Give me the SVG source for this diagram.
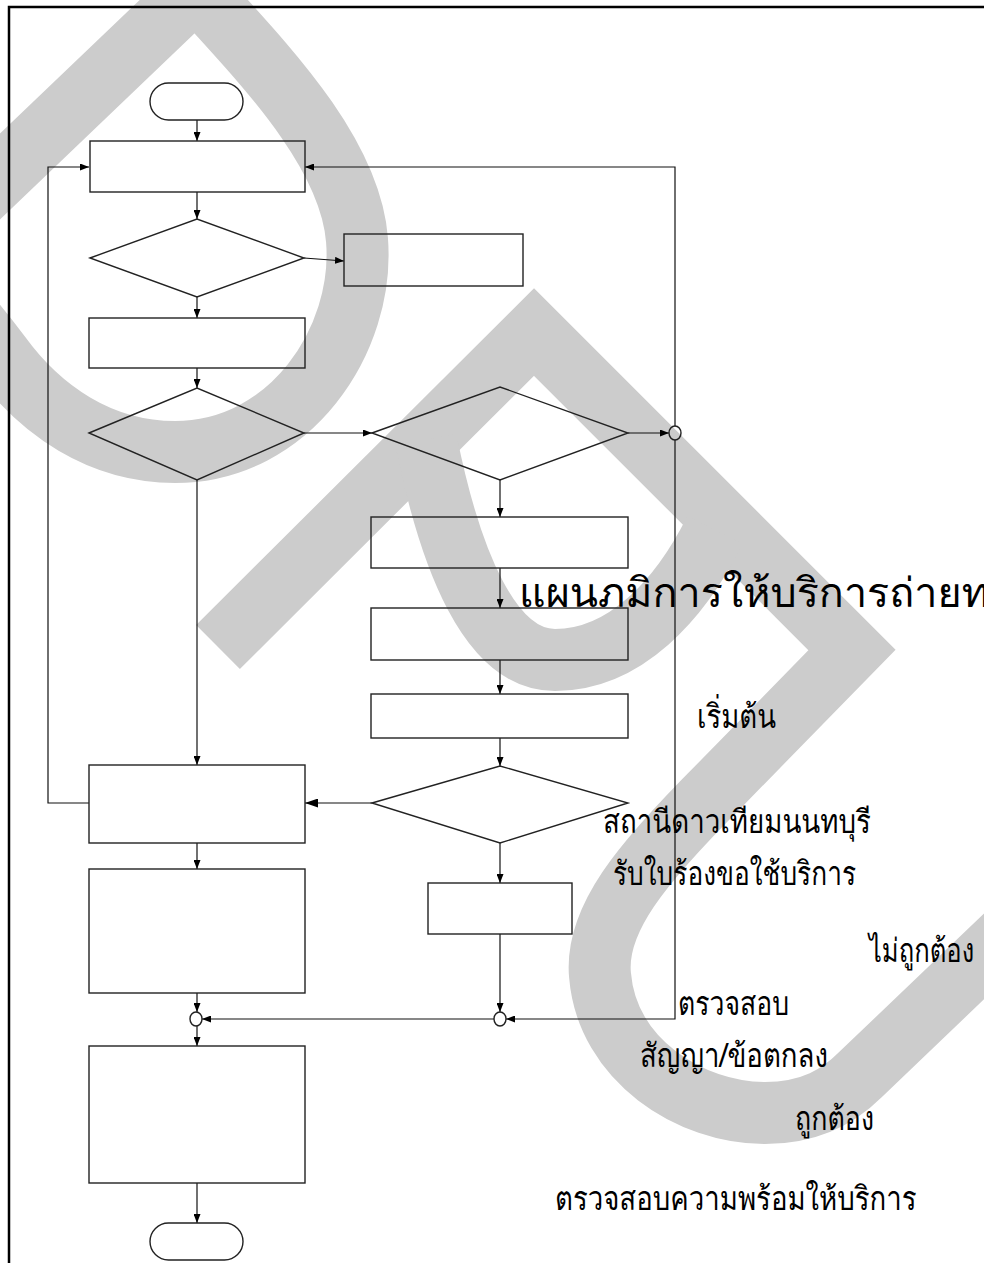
<svg xmlns="http://www.w3.org/2000/svg" width="984" height="1263" viewBox="0 0 984 1263">
<defs>
<style>
.wm{fill:none;stroke:#cccccc;stroke-width:62;stroke-linejoin:miter;stroke-miterlimit:10}
.n{fill:none;stroke:#222;stroke-width:1.4}
.c{fill:none;stroke:#111;stroke-width:1.2}
.t{font-family:"Loma","Garuda","Noto Sans Thai Looped","Noto Sans Thai","DejaVu Sans",sans-serif;font-weight:normal;fill:#000}
</style>
<marker id="a" markerUnits="userSpaceOnUse" markerWidth="9" markerHeight="7" refX="9" refY="3.5" orient="auto"><path d="M0,0 L9,3.5 L0,7 z" fill="#000"/></marker>
<marker id="b" markerUnits="userSpaceOnUse" markerWidth="13" markerHeight="9" refX="13" refY="4.5" orient="auto"><path d="M0,0 L13,4.5 L0,9 z" fill="#000"/></marker>
</defs>
<rect x="0" y="0" width="984" height="1263" fill="#fff"/>
<g id="watermark">
<path class="wm" d="M -150,320 L 196,-11 C 260,60 350,150 357,240 C 365,340 290,452 175,452 C 100,452 40,410 0,355 C -30,315 -60,280 -100,250"/>
<path class="wm" d="M 218,647 L 534,332 L 852,650 L 720,785 C 640,865 595,920 600,975 C 607,1060 690,1113 765,1113 C 812,1113 840,1095 860,1075 L 1020,922"/>
<path class="wm" d="M 426,440 C 450,560 490,660 555,660 C 625,660 680,600 715,530"/>
</g>
<rect x="9" y="7" width="1000" height="1300" fill="none" stroke="#000" stroke-width="2.5"/>
<g id="connectors">
<line class="c" x1="197" y1="120" x2="197" y2="141" marker-end="url(#a)"/>
<line class="c" x1="197" y1="192" x2="197" y2="219" marker-end="url(#a)"/>
<line class="c" x1="304" y1="258" x2="344" y2="261" marker-end="url(#a)"/>
<line class="c" x1="197" y1="297" x2="197" y2="318" marker-end="url(#a)"/>
<line class="c" x1="197" y1="368" x2="197" y2="388" marker-end="url(#a)"/>
<line class="c" x1="304" y1="433" x2="372" y2="433" marker-end="url(#a)"/>
<line class="c" x1="628" y1="433" x2="669" y2="433" marker-end="url(#a)"/>
<polyline class="c" points="675,426 675,167 305,167" marker-end="url(#a)"/>
<polyline class="c" points="675,440 675,1019 506,1019" marker-end="url(#a)"/>
<polyline class="c" points="89,803 48,803 48,167 89,167" marker-end="url(#a)"/>
<line class="c" x1="197" y1="480" x2="197" y2="765" marker-end="url(#a)"/>
<line class="c" x1="500" y1="480" x2="500" y2="517" marker-end="url(#a)"/>
<line class="c" x1="500" y1="568" x2="500" y2="608" marker-end="url(#a)"/>
<line class="c" x1="500" y1="660" x2="500" y2="694" marker-end="url(#a)"/>
<line class="c" x1="500" y1="738" x2="500" y2="766" marker-end="url(#a)"/>
<line class="c" x1="372" y1="803" x2="305" y2="803" marker-end="url(#b)"/>
<line class="c" x1="500" y1="843" x2="500" y2="883" marker-end="url(#a)"/>
<line class="c" x1="500" y1="934" x2="500" y2="1012" marker-end="url(#a)"/>
<line class="c" x1="494" y1="1019" x2="202" y2="1019" marker-end="url(#a)"/>
<line class="c" x1="197" y1="843" x2="197" y2="869" marker-end="url(#a)"/>
<line class="c" x1="197" y1="993" x2="197" y2="1012" marker-end="url(#a)"/>
<line class="c" x1="197" y1="1026" x2="197" y2="1046" marker-end="url(#a)"/>
<line class="c" x1="197" y1="1183" x2="197" y2="1223" marker-end="url(#a)"/>
</g>
<g id="start"><rect class="n" x="150" y="83" width="93" height="37" rx="18.5"/></g>
<g id="box1"><rect class="n" x="90" y="141" width="215" height="51"/></g>
<g id="dec1"><polygon class="n" points="90,258 197,219 304,258 197,297"/></g>
<g id="box2"><rect class="n" x="344" y="234" width="179" height="52"/></g>
<g id="box3"><rect class="n" x="89" y="318" width="216" height="50"/></g>
<g id="dec2"><polygon class="n" points="89,433 197,388 304,433 197,480"/></g>
<g id="dec3"><polygon class="n" points="372,433 500,387 628,433 500,480"/></g>
<g id="j1"><ellipse class="n" cx="675" cy="433" rx="6" ry="7"/></g>
<g id="box5"><rect class="n" x="371" y="517" width="257" height="51"/></g>
<g id="box6"><rect class="n" x="371" y="608" width="257" height="52"/></g>
<g id="box7"><rect class="n" x="371" y="694" width="257" height="44"/></g>
<g id="dec4"><polygon class="n" points="372,803 500,766 628,803 500,843"/></g>
<g id="box4"><rect class="n" x="89" y="765" width="216" height="78"/></g>
<g id="box8"><rect class="n" x="428" y="883" width="144" height="51"/></g>
<g id="box9"><rect class="n" x="89" y="869" width="216" height="124"/></g>
<g id="j2"><ellipse class="n" cx="500" cy="1019" rx="6" ry="7"/></g>
<g id="j3"><ellipse class="n" cx="196" cy="1019" rx="6" ry="7"/></g>
<g id="box10"><rect class="n" x="89" y="1046" width="216" height="137"/></g>
<g id="end"><rect class="n" x="150" y="1223" width="93" height="37" rx="18.5"/></g>
<g id="labels">
<text class="t" x="519" y="607" font-size="41" textLength="470" lengthAdjust="spacingAndGlyphs">แผนภมิการให้บริการถ่ายท</text>
<text class="t" x="697" y="728" font-size="33" textLength="79" lengthAdjust="spacingAndGlyphs">เริ่มต้น</text>
<text class="t" x="603" y="833" font-size="33" textLength="268" lengthAdjust="spacingAndGlyphs">สถานีดาวเทียมนนทบุรี</text>
<text class="t" x="613" y="885" font-size="33" textLength="243" lengthAdjust="spacingAndGlyphs">รับใบร้องขอใช้บริการ</text>
<text class="t" x="0" y="0" font-size="33" transform="translate(869,962) scale(0.776,1)">ไม่ถูกต้อง</text>
<text class="t" x="678" y="1015" font-size="33" textLength="111" lengthAdjust="spacingAndGlyphs">ตรวจสอบ</text>
<text class="t" x="640" y="1067" font-size="33" textLength="188" lengthAdjust="spacingAndGlyphs">สัญญา/ข้อตกลง</text>
<text class="t" x="795" y="1130" font-size="33" textLength="79" lengthAdjust="spacingAndGlyphs">ถูกต้อง</text>
<text class="t" x="0" y="0" font-size="33" transform="translate(555,1210) scale(0.836,1)">ตรวจสอบความพร้อมให้บริการ</text>
</g>
</svg>
